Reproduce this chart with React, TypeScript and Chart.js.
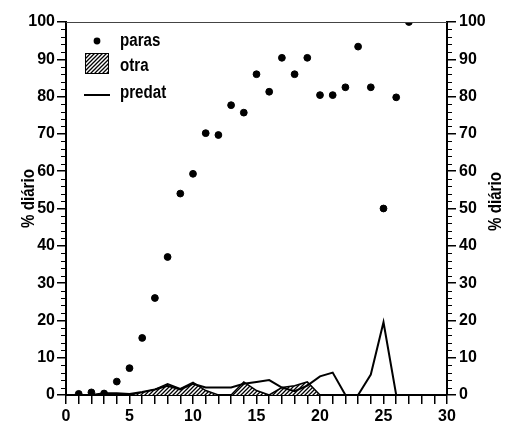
import React, { useEffect, useRef } from 'react';
import { Chart, registerables } from 'chart.js';
Chart.register(...registerables);

// ---- data ----
const parasDays = [1, 2, 3, 4, 5, 6, 7, 8, 9, 10, 11, 12, 13, 14, 15, 16, 17, 18, 19, 20, 21, 22, 23, 24, 25, 26, 27];
const parasValues = [0.3, 0.7, 0.4, 3.6, 7.2, 15.3, 26, 37, 54, 59.3, 70.2, 69.7, 77.7, 75.7, 86, 81.3, 90.4, 86, 90.4, 80.4, 80.4, 82.5, 93.4, 82.5, 50, 79.8, 100];

const otraDays = [5, 6, 7, 8, 9, 10, 11, 12, 13, 14, 15, 16, 17, 18, 19, 20];
const otraValues = [0, 0.7, 1.5, 3, 1.7, 3.4, 1.2, 0, 0, 3.5, 1.2, 0, 2, 2.5, 3.5, 0];

const predatDays = [1, 2, 3, 4, 5, 6, 7, 8, 9, 10, 11, 12, 13, 14, 15, 16, 17, 18, 19, 20, 21, 22, 23, 24, 25, 26, 27];
const predatValues = [0, 0, 0.5, 0.5, 0.3, 0.8, 1.5, 2.5, 1.5, 3, 2, 2, 2, 3, 3.5, 4, 2, 1, 2.5, 5, 6, 0, 0, 5.5, 19.5, 0, 0];

const xTickLabels = [0, 5, 10, 15, 20, 25, 30];
const yTickLabels = [0, 10, 20, 30, 40, 50, 60, 70, 80, 90, 100];
const legendLabels = ['paras', 'otra', 'predat'];
const yTitle = '% diário';

const FONT = '"Liberation Sans", Arial, sans-serif';
const TEXT_FONT = 'bold 18px ' + FONT;
const SQUEEZE = 0.84;

function makePattern(): CanvasPattern | string {
  const c = document.createElement('canvas');
  c.width = 4;
  c.height = 4;
  const g = c.getContext('2d');
  if (!g) return '#888';
  g.fillStyle = '#fff';
  g.fillRect(0, 0, 4, 4);
  g.strokeStyle = '#000';
  g.lineWidth = 1.3;
  g.beginPath();
  g.moveTo(0, 4);
  g.lineTo(4, 0);
  g.moveTo(-1, 1);
  g.lineTo(1, -1);
  g.moveTo(3, 5);
  g.lineTo(5, 3);
  g.stroke();
  const p = g.createPattern(c, 'repeat');
  return p || '#888';
}

function squeezedText(ctx: CanvasRenderingContext2D, text: string, x: number, y: number, rot: number, align: CanvasTextAlign) {
  ctx.save();
  ctx.translate(x, y);
  ctx.rotate(rot);
  ctx.scale(SQUEEZE, 1);
  ctx.textAlign = align;
  ctx.fillText(text, 0, 0);
  ctx.restore();
}

export default function App() {
  const ref = useRef<HTMLCanvasElement | null>(null);

  useEffect(() => {
    document.body.style.margin = '0';
    const canvas = ref.current;
    if (!canvas) return;
    const pattern = makePattern();

    const overlay = {
      id: 'overlay',
      afterDraw(chart: any) {
        const ctx = chart.ctx as CanvasRenderingContext2D;
        const area = chart.chartArea;
        const y = chart.scales.y;
        ctx.save();
        // thin top border
        ctx.strokeStyle = '#444';
        ctx.lineWidth = 1;
        ctx.beginPath();
        ctx.moveTo(area.left, area.top + 0.5);
        ctx.lineTo(area.right, area.top + 0.5);
        ctx.stroke();
        // minor ticks
        ctx.strokeStyle = '#000';
        ctx.lineWidth = 1;
        for (let v = 0; v <= 100; v += 2) {
          if (v % 10 === 0) continue;
          const py = Math.round(y.getPixelForValue(v)) + 0.5;
          ctx.beginPath();
          ctx.moveTo(area.left - 5, py);
          ctx.lineTo(area.left, py);
          ctx.moveTo(area.right, py);
          ctx.lineTo(area.right + 5, py);
          ctx.stroke();
        }
        // axis titles
        ctx.fillStyle = '#000';
        ctx.font = TEXT_FONT;
        ctx.textBaseline = 'middle';
        const midY = (area.top + area.bottom) / 2;
        squeezedText(ctx, yTitle, 29, midY - 10, -Math.PI / 2, 'center');
        squeezedText(ctx, yTitle, 496, midY - 7, -Math.PI / 2, 'center');
        // legend
        const lx = area.left + 19;
        const tx = area.left + 54;
        ctx.beginPath();
        ctx.arc(lx + 12, 41, 3.4, 0, Math.PI * 2);
        ctx.fill();
        squeezedText(ctx, legendLabels[0], tx, 41, 0, 'left');
        ctx.fillStyle = pattern as any;
        ctx.fillRect(lx, 53, 24, 21);
        ctx.strokeStyle = '#000';
        ctx.lineWidth = 1;
        ctx.strokeRect(lx + 0.5, 53.5, 23, 20);
        ctx.fillStyle = '#000';
        squeezedText(ctx, legendLabels[1], tx, 66, 0, 'left');
        ctx.lineWidth = 2;
        ctx.beginPath();
        ctx.moveTo(lx - 1, 95);
        ctx.lineTo(lx + 25, 95);
        ctx.stroke();
        squeezedText(ctx, legendLabels[2], tx, 93, 0, 'left');
        ctx.restore();
      },
    };

    const tickFont = { family: FONT, size: 16, weight: 'bold' as const };

    const chart = new Chart(canvas, {
      type: 'line',
      data: {
        datasets: [
          {
            label: legendLabels[0],
            type: 'scatter',
            data: parasDays.map((d, i) => ({ x: d, y: parasValues[i] })),
            backgroundColor: '#000',
            borderColor: '#000',
            pointRadius: 3.4,
            showLine: false,
            yAxisID: 'y',
            order: 0,
          } as any,
          {
            label: legendLabels[1],
            data: otraDays.map((d, i) => ({ x: d, y: otraValues[i] })),
            backgroundColor: pattern as any,
            borderColor: '#000',
            borderWidth: 1.5,
            fill: 'origin',
            pointRadius: 0,
            tension: 0,
            yAxisID: 'y',
            order: 2,
          },
          {
            label: legendLabels[2],
            data: predatDays.map((d, i) => ({ x: d, y: predatValues[i] })),
            borderColor: '#000',
            borderWidth: 2,
            fill: false,
            pointRadius: 0,
            tension: 0,
            yAxisID: 'y',
            order: 1,
          },
        ],
      },
      options: {
        animation: false,
        responsive: false,
        layout: { padding: { top: 22, left: 0, right: 0, bottom: 0 } },
        plugins: { legend: { display: false }, tooltip: { enabled: false } },
        scales: {
          x: {
            type: 'linear',
            min: 0,
            max: 30,
            border: { color: '#000', width: 2 },
            grid: { drawOnChartArea: false, color: '#000', tickLength: 9, lineWidth: 1.5 },
            ticks: {
              stepSize: 1,
              autoSkip: false,
              maxRotation: 0,
              padding: 3,
              color: '#000',
              font: tickFont,
              callback: (v: any) => (xTickLabels.includes(Number(v)) ? String(v) : ''),
            },
            afterFit: (s: any) => {
              s.height = 31;
            },
          },
          y: {
            position: 'left',
            min: 0,
            max: 100,
            border: { color: '#000', width: 2 },
            grid: { drawOnChartArea: false, color: '#000', tickLength: 9, lineWidth: 1.5 },
            ticks: {
              stepSize: 10,
              padding: 2,
              color: '#000',
              font: tickFont,
              callback: (v: any) => (yTickLabels.includes(Number(v)) ? String(v) : ''),
            },
            afterFit: (s: any) => {
              s.width = 66;
            },
          },
          y2: {
            position: 'right',
            min: 0,
            max: 100,
            border: { color: '#000', width: 2 },
            grid: { drawOnChartArea: false, color: '#000', tickLength: 9, lineWidth: 1.5 },
            ticks: {
              stepSize: 10,
              padding: 3,
              color: '#000',
              font: tickFont,
              callback: (v: any) => (yTickLabels.includes(Number(v)) ? String(v) : ''),
            },
            afterFit: (s: any) => {
              s.width = 60;
            },
          },
        },
      },
      plugins: [overlay],
    });
    return () => chart.destroy();
  }, []);

  return (
    <div style={{ position: 'absolute', left: 0, top: 0, width: 507, height: 426, background: '#fff' }}>
      <canvas ref={ref} width={507} height={426} />
    </div>
  );
}
